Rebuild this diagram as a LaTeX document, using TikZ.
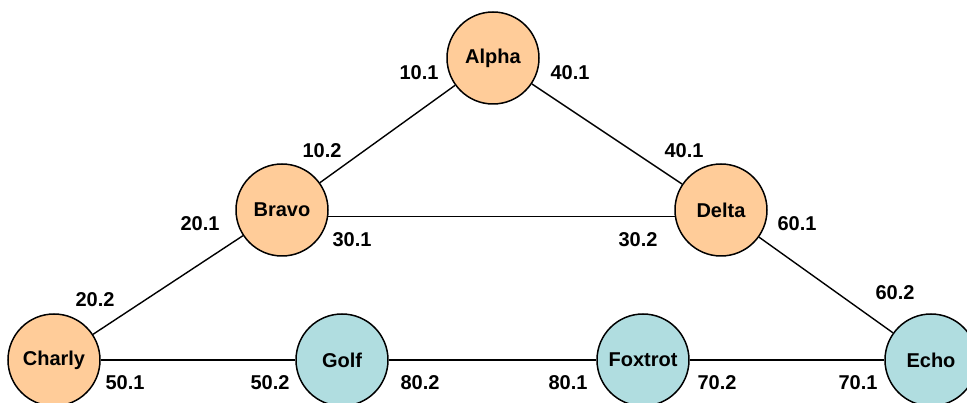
\documentclass[tikz,border=0pt]{standalone}
\usepackage{fontspec}
\setmainfont{Liberation Sans}
\definecolor{peach}{HTML}{FFCC99}
\definecolor{aqua}{HTML}{B0DDE0}
\tikzset{
  vertex/.style={circle, draw=black, line width=1.5pt, minimum size=92pt, inner sep=0pt,
    font=\fontsize{20}{24}\selectfont\bfseries},
  warm/.style={vertex, fill=peach},
  cool/.style={vertex, fill=aqua},
  link/.style={draw=black, line width=1.4pt},
  weight/.style={font=\fontsize{20}{24}\selectfont\bfseries, inner sep=0pt}
}
\begin{document}
\begin{tikzpicture}[x=1pt,y=-1pt]
\useasboundingbox (0,0) rectangle (967,403);

% vertices
\node[warm] (alpha)   at (493,58)  {Alpha};
\node[warm] (bravo)   at (282,210) {Bravo};
\node[warm] (delta)   at (721,210) {Delta};
\node[warm] (charly)  at (54,360)  {Charly};
\node[cool] (golf)    at (342,360) {Golf};
\node[cool] (foxtrot) at (643,360) {Foxtrot};
\node[cool] (echo)    at (931,360) {Echo};

% edges
\draw[link] (alpha) -- (bravo);
\draw[link] (alpha) -- (delta);
\draw[link] (bravo.-8.7) -- (delta.188.7);
\draw[link] (bravo) -- (charly);
\draw[link] (delta) -- (echo);
\draw[link] (charly) -- (golf);
\draw[link] (golf) -- (foxtrot);
\draw[link] (foxtrot) -- (echo);

% edge weights
\node[weight] (w1) at (419,73)  {10.1};
\node[weight] (w2) at (570,73)  {40.1};
\node[weight] (w3) at (322,151) {10.2};
\node[weight] (w4) at (684,151) {40.1};
\node[weight] (w5) at (200,224) {20.1};
\node[weight] (w6) at (352,240) {30.1};
\node[weight] (w7) at (638,240) {30.2};
\node[weight] (w8) at (797,224) {60.1};
\node[weight] (w9) at (95,300)  {20.2};
\node[weight] (w10) at (895,293) {60.2};
\node[weight] (w11) at (125,383) {50.1};
\node[weight] (w12) at (270,383) {50.2};
\node[weight] (w13) at (420,383) {80.2};
\node[weight] (w14) at (568,383) {80.1};
\node[weight] (w15) at (717,383) {70.2};
\node[weight] (w16) at (858,383) {70.1};
\end{tikzpicture}
\end{document}
